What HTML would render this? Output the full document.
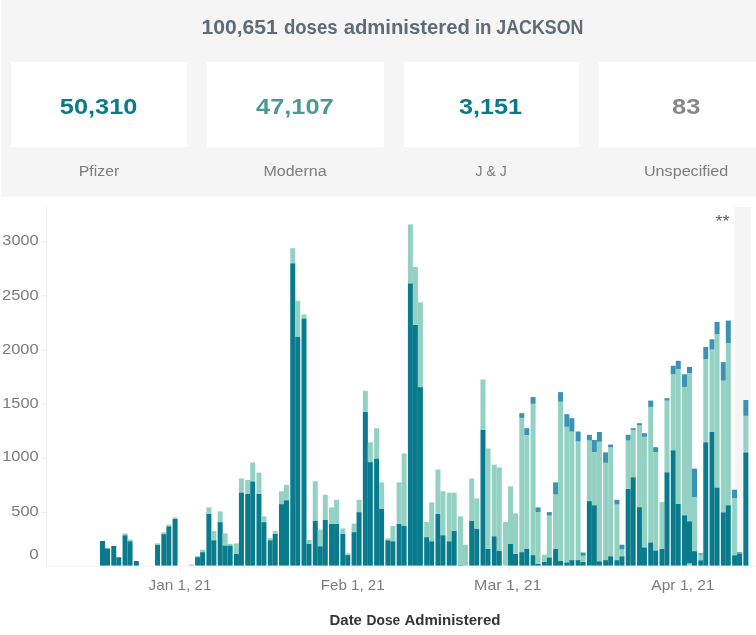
<!DOCTYPE html>
<html><head><meta charset="utf-8"><title>Doses administered</title>
<style>
html,body{margin:0;padding:0;background:#fff;}
body{width:756px;height:635px;overflow:hidden;position:relative;font-family:"Liberation Sans",sans-serif;}
svg{position:absolute;left:0;top:0;display:block;}
svg text{font-family:"Liberation Sans",sans-serif;}
.b{font-weight:bold;}
</style></head><body>
<svg width="756" height="635" viewBox="0 0 756 635">
<rect x="1.2" y="0" width="784" height="196.8" fill="#f5f5f5"/>
<rect x="11" y="62" width="176" height="85" fill="#fff"/>
<rect x="207" y="62" width="176.7" height="85" fill="#fff"/>
<rect x="403.7" y="62" width="175.3" height="85" fill="#fff"/>
<rect x="599" y="62" width="176" height="85" fill="#fff"/>
<rect x="734.4" y="207" width="16.7" height="359" fill="#f5f5f5"/>
<rect x="46" y="207" width="1" height="360.5" fill="#efefef"/>
<rect x="46" y="565.6" width="710" height="1" fill="#f1f1f1"/>
<rect x="41" y="511.88" width="5" height="1" fill="#ececec"/>
<rect x="41" y="457.75" width="5" height="1" fill="#ececec"/>
<rect x="41" y="403.62" width="5" height="1" fill="#ececec"/>
<rect x="41" y="349.50" width="5" height="1" fill="#ececec"/>
<rect x="41" y="295.38" width="5" height="1" fill="#ececec"/>
<rect x="41" y="241.25" width="5" height="1" fill="#ececec"/>
<rect x="179.7" y="567" width="1.2" height="4.8" fill="#f0f0f0"/>
<rect x="352.4" y="567" width="1.2" height="4.8" fill="#f0f0f0"/>
<rect x="508.9" y="567" width="1.2" height="4.8" fill="#f0f0f0"/>
<rect x="682.6" y="567" width="1.2" height="4.8" fill="#f0f0f0"/>
<text class="b" y="34.40" font-size="19.9" fill="#5f6b76"><tspan x="201.40" textLength="76.45" lengthAdjust="spacingAndGlyphs">100,651</tspan> <tspan x="283.90" textLength="53.70" lengthAdjust="spacingAndGlyphs">doses</tspan> <tspan x="343.65" textLength="126.25" lengthAdjust="spacingAndGlyphs">administered</tspan> <tspan x="474.95" textLength="16.60" lengthAdjust="spacingAndGlyphs">in</tspan> <tspan x="496.30" textLength="87.05" lengthAdjust="spacingAndGlyphs">JACKSON</tspan></text>
<text class="b" x="59.80" y="114.35" font-size="22.2" fill="#087a8b" textLength="77.55" lengthAdjust="spacingAndGlyphs">50,310</text>
<text class="b" x="256.10" y="114.35" font-size="22.2" fill="#4a9a93" textLength="77.55" lengthAdjust="spacingAndGlyphs">47,107</text>
<text class="b" x="459.05" y="114.35" font-size="22.2" fill="#087a8b" textLength="63.00" lengthAdjust="spacingAndGlyphs">3,151</text>
<text class="b" x="672.00" y="114.35" font-size="22.2" fill="#868686" textLength="28.30" lengthAdjust="spacingAndGlyphs">83</text>
<text x="78.75" y="176.45" font-size="14.7" fill="#7c7c7c" textLength="40.45" lengthAdjust="spacingAndGlyphs">Pfizer</text>
<text x="263.40" y="176.45" font-size="14.7" fill="#7c7c7c" textLength="63.25" lengthAdjust="spacingAndGlyphs">Moderna</text>
<text x="475.60" y="176.45" font-size="14.7" fill="#7c7c7c" textLength="31.05" lengthAdjust="spacingAndGlyphs">J &amp; J</text>
<text x="643.95" y="176.45" font-size="14.7" fill="#7c7c7c" textLength="84.40" lengthAdjust="spacingAndGlyphs">Unspecified</text>
<text x="2.35" y="245.00" font-size="14.8" fill="#7c7c7c" textLength="36.30" lengthAdjust="spacingAndGlyphs">3000</text>
<text x="2.10" y="300.00" font-size="14.8" fill="#7c7c7c" textLength="36.55" lengthAdjust="spacingAndGlyphs">2500</text>
<text x="2.10" y="353.75" font-size="14.8" fill="#7c7c7c" textLength="36.55" lengthAdjust="spacingAndGlyphs">2000</text>
<text x="2.25" y="407.50" font-size="14.8" fill="#7c7c7c" textLength="36.40" lengthAdjust="spacingAndGlyphs">1500</text>
<text x="2.25" y="461.25" font-size="14.8" fill="#7c7c7c" textLength="36.40" lengthAdjust="spacingAndGlyphs">1000</text>
<text x="11.30" y="516.25" font-size="14.8" fill="#7c7c7c" textLength="27.35" lengthAdjust="spacingAndGlyphs">500</text>
<text x="29.25" y="558.75" font-size="14.8" fill="#7c7c7c" textLength="9.40" lengthAdjust="spacingAndGlyphs">0</text>
<text x="148.60" y="589.60" font-size="14.6" fill="#7c7c7c" textLength="63.00" lengthAdjust="spacingAndGlyphs">Jan 1, 21</text>
<text x="320.75" y="589.60" font-size="14.6" fill="#7c7c7c" textLength="63.90" lengthAdjust="spacingAndGlyphs">Feb 1, 21</text>
<text x="474.10" y="589.60" font-size="14.6" fill="#7c7c7c" textLength="67.40" lengthAdjust="spacingAndGlyphs">Mar 1, 21</text>
<text x="651.35" y="589.60" font-size="14.6" fill="#7c7c7c" textLength="63.15" lengthAdjust="spacingAndGlyphs">Apr 1, 21</text>
<text class="b" y="624.90" font-size="15.0" fill="#353535"><tspan x="329.50" textLength="32.45" lengthAdjust="spacingAndGlyphs">Date</tspan> <tspan x="366.50" textLength="33.75" lengthAdjust="spacingAndGlyphs">Dose</tspan> <tspan x="404.45" textLength="96.00" lengthAdjust="spacingAndGlyphs">Administered</tspan></text>
<text x="715.60" y="226.70" font-size="16" fill="#5c5c5c" textLength="14.00" lengthAdjust="spacingAndGlyphs">**</text>
<rect x="100.00" y="541.0" width="5.0" height="24.6" fill="#0a7b8c"/>
<rect x="105.01" y="548.4" width="5.0" height="17.2" fill="#0a7b8c"/>
<rect x="111.26" y="546.0" width="5.0" height="19.6" fill="#0a7b8c"/>
<rect x="116.27" y="557.3" width="5.0" height="8.3" fill="#0a7b8c"/>
<rect x="122.53" y="535.2" width="5.0" height="30.4" fill="#0a7b8c"/>
<rect x="122.53" y="533.4" width="5.0" height="1.8" fill="#93d2c2"/>
<rect x="127.54" y="541.2" width="5.0" height="24.4" fill="#0a7b8c"/>
<rect x="127.54" y="539.5" width="5.0" height="1.7" fill="#93d2c2"/>
<rect x="133.79" y="561.0" width="5.0" height="4.6" fill="#0a7b8c"/>
<rect x="155.07" y="545.0" width="5.0" height="20.6" fill="#0a7b8c"/>
<rect x="155.07" y="543.4" width="5.0" height="1.6" fill="#93d2c2"/>
<rect x="161.33" y="534.1" width="5.0" height="31.5" fill="#0a7b8c"/>
<rect x="161.33" y="532.3" width="5.0" height="1.8" fill="#93d2c2"/>
<rect x="166.34" y="526.3" width="5.0" height="39.3" fill="#0a7b8c"/>
<rect x="166.34" y="524.7" width="5.0" height="1.6" fill="#93d2c2"/>
<rect x="172.59" y="518.9" width="5.0" height="46.7" fill="#0a7b8c"/>
<rect x="172.59" y="517.3" width="5.0" height="1.6" fill="#93d2c2"/>
<rect x="188.87" y="564.5" width="5.0" height="1.1" fill="#93d2c2"/>
<rect x="195.12" y="557.1" width="5.0" height="8.5" fill="#0a7b8c"/>
<rect x="195.12" y="556.2" width="5.0" height="0.9" fill="#93d2c2"/>
<rect x="200.13" y="552.1" width="5.0" height="13.5" fill="#0a7b8c"/>
<rect x="200.13" y="549.7" width="5.0" height="2.4" fill="#93d2c2"/>
<rect x="206.39" y="513.9" width="5.0" height="51.7" fill="#0a7b8c"/>
<rect x="206.39" y="507.4" width="5.0" height="6.5" fill="#93d2c2"/>
<rect x="211.39" y="540.2" width="5.0" height="25.4" fill="#0a7b8c"/>
<rect x="211.39" y="531.2" width="5.0" height="9.0" fill="#93d2c2"/>
<rect x="217.65" y="522.1" width="5.0" height="43.5" fill="#0a7b8c"/>
<rect x="217.65" y="511.3" width="5.0" height="10.8" fill="#93d2c2"/>
<rect x="222.66" y="545.4" width="5.0" height="20.2" fill="#0a7b8c"/>
<rect x="222.66" y="533.4" width="5.0" height="12.0" fill="#93d2c2"/>
<rect x="227.67" y="545.4" width="5.0" height="20.2" fill="#0a7b8c"/>
<rect x="227.67" y="543.8" width="5.0" height="1.6" fill="#93d2c2"/>
<rect x="233.92" y="553.6" width="5.0" height="12.0" fill="#0a7b8c"/>
<rect x="233.92" y="543.4" width="5.0" height="10.2" fill="#93d2c2"/>
<rect x="238.93" y="492.4" width="5.0" height="73.2" fill="#0a7b8c"/>
<rect x="238.93" y="478.5" width="5.0" height="13.9" fill="#93d2c2"/>
<rect x="245.19" y="493.9" width="5.0" height="71.7" fill="#0a7b8c"/>
<rect x="245.19" y="480.0" width="5.0" height="13.9" fill="#93d2c2"/>
<rect x="250.20" y="481.3" width="5.0" height="84.3" fill="#0a7b8c"/>
<rect x="250.20" y="462.4" width="5.0" height="18.9" fill="#93d2c2"/>
<rect x="256.45" y="493.9" width="5.0" height="71.7" fill="#0a7b8c"/>
<rect x="256.45" y="472.6" width="5.0" height="21.3" fill="#93d2c2"/>
<rect x="261.46" y="522.1" width="5.0" height="43.5" fill="#0a7b8c"/>
<rect x="261.46" y="516.3" width="5.0" height="5.8" fill="#93d2c2"/>
<rect x="267.72" y="540.2" width="5.0" height="25.4" fill="#0a7b8c"/>
<rect x="267.72" y="538.2" width="5.0" height="2.0" fill="#93d2c2"/>
<rect x="272.72" y="533.9" width="5.0" height="31.7" fill="#0a7b8c"/>
<rect x="272.72" y="531.0" width="5.0" height="2.9" fill="#93d2c2"/>
<rect x="278.98" y="504.1" width="5.0" height="61.5" fill="#0a7b8c"/>
<rect x="278.98" y="491.3" width="5.0" height="12.8" fill="#93d2c2"/>
<rect x="283.99" y="500.2" width="5.0" height="65.4" fill="#0a7b8c"/>
<rect x="283.99" y="484.8" width="5.0" height="15.4" fill="#93d2c2"/>
<rect x="290.25" y="263.2" width="5.0" height="302.4" fill="#0a7b8c"/>
<rect x="290.25" y="248.2" width="5.0" height="15.0" fill="#93d2c2"/>
<rect x="295.25" y="336.6" width="5.0" height="229.0" fill="#0a7b8c"/>
<rect x="295.25" y="300.8" width="5.0" height="35.8" fill="#93d2c2"/>
<rect x="301.51" y="318.4" width="5.0" height="247.2" fill="#0a7b8c"/>
<rect x="301.51" y="314.5" width="5.0" height="3.9" fill="#93d2c2"/>
<rect x="306.52" y="543.6" width="5.0" height="22.0" fill="#0a7b8c"/>
<rect x="306.52" y="539.9" width="5.0" height="3.7" fill="#93d2c2"/>
<rect x="312.78" y="521.0" width="5.0" height="44.6" fill="#0a7b8c"/>
<rect x="312.78" y="481.3" width="5.0" height="39.7" fill="#93d2c2"/>
<rect x="317.78" y="546.2" width="5.0" height="19.4" fill="#0a7b8c"/>
<rect x="317.78" y="529.7" width="5.0" height="16.5" fill="#93d2c2"/>
<rect x="322.79" y="520.0" width="5.0" height="45.6" fill="#0a7b8c"/>
<rect x="322.79" y="494.8" width="5.0" height="25.2" fill="#93d2c2"/>
<rect x="329.05" y="523.9" width="5.0" height="41.7" fill="#0a7b8c"/>
<rect x="329.05" y="507.4" width="5.0" height="16.5" fill="#93d2c2"/>
<rect x="334.05" y="523.9" width="5.0" height="41.7" fill="#0a7b8c"/>
<rect x="334.05" y="499.8" width="5.0" height="24.1" fill="#93d2c2"/>
<rect x="340.31" y="533.9" width="5.0" height="31.7" fill="#0a7b8c"/>
<rect x="340.31" y="528.4" width="5.0" height="5.5" fill="#93d2c2"/>
<rect x="345.32" y="555.1" width="5.0" height="10.5" fill="#0a7b8c"/>
<rect x="345.32" y="553.4" width="5.0" height="1.7" fill="#93d2c2"/>
<rect x="351.58" y="532.1" width="5.0" height="33.5" fill="#0a7b8c"/>
<rect x="351.58" y="523.6" width="5.0" height="8.5" fill="#93d2c2"/>
<rect x="356.58" y="512.1" width="5.0" height="53.5" fill="#0a7b8c"/>
<rect x="356.58" y="499.8" width="5.0" height="12.3" fill="#93d2c2"/>
<rect x="362.84" y="411.9" width="5.0" height="153.7" fill="#0a7b8c"/>
<rect x="362.84" y="390.8" width="5.0" height="21.1" fill="#93d2c2"/>
<rect x="367.85" y="462.1" width="5.0" height="103.5" fill="#0a7b8c"/>
<rect x="367.85" y="442.3" width="5.0" height="19.8" fill="#93d2c2"/>
<rect x="374.11" y="458.4" width="5.0" height="107.2" fill="#0a7b8c"/>
<rect x="374.11" y="428.2" width="5.0" height="30.2" fill="#93d2c2"/>
<rect x="379.11" y="508.9" width="5.0" height="56.7" fill="#0a7b8c"/>
<rect x="379.11" y="482.4" width="5.0" height="26.5" fill="#93d2c2"/>
<rect x="385.37" y="540.2" width="5.0" height="25.4" fill="#0a7b8c"/>
<rect x="385.37" y="538.4" width="5.0" height="1.8" fill="#93d2c2"/>
<rect x="390.38" y="541.2" width="5.0" height="24.4" fill="#0a7b8c"/>
<rect x="390.38" y="526.0" width="5.0" height="15.2" fill="#93d2c2"/>
<rect x="396.64" y="523.9" width="5.0" height="41.7" fill="#0a7b8c"/>
<rect x="396.64" y="482.4" width="5.0" height="41.5" fill="#93d2c2"/>
<rect x="401.64" y="526.0" width="5.0" height="39.6" fill="#0a7b8c"/>
<rect x="401.64" y="453.5" width="5.0" height="72.5" fill="#93d2c2"/>
<rect x="407.90" y="283.3" width="5.0" height="282.3" fill="#0a7b8c"/>
<rect x="407.90" y="224.4" width="5.0" height="58.9" fill="#93d2c2"/>
<rect x="412.91" y="324.7" width="5.0" height="240.9" fill="#0a7b8c"/>
<rect x="412.91" y="267.1" width="5.0" height="57.6" fill="#93d2c2"/>
<rect x="417.91" y="387.1" width="5.0" height="178.5" fill="#0a7b8c"/>
<rect x="417.91" y="302.3" width="5.0" height="84.8" fill="#93d2c2"/>
<rect x="424.17" y="537.1" width="5.0" height="28.5" fill="#0a7b8c"/>
<rect x="424.17" y="522.1" width="5.0" height="15.0" fill="#93d2c2"/>
<rect x="429.18" y="541.2" width="5.0" height="24.4" fill="#0a7b8c"/>
<rect x="429.18" y="502.4" width="5.0" height="38.8" fill="#93d2c2"/>
<rect x="435.44" y="513.9" width="5.0" height="51.7" fill="#0a7b8c"/>
<rect x="435.44" y="469.6" width="5.0" height="44.3" fill="#93d2c2"/>
<rect x="440.44" y="535.2" width="5.0" height="30.4" fill="#0a7b8c"/>
<rect x="440.44" y="491.3" width="5.0" height="43.9" fill="#93d2c2"/>
<rect x="446.70" y="541.2" width="5.0" height="24.4" fill="#0a7b8c"/>
<rect x="446.70" y="492.6" width="5.0" height="48.6" fill="#93d2c2"/>
<rect x="451.71" y="531.0" width="5.0" height="34.6" fill="#0a7b8c"/>
<rect x="451.71" y="492.6" width="5.0" height="38.4" fill="#93d2c2"/>
<rect x="457.96" y="565.1" width="5.0" height="0.5" fill="#0a7b8c"/>
<rect x="457.96" y="516.3" width="5.0" height="48.8" fill="#93d2c2"/>
<rect x="462.97" y="544.7" width="5.0" height="20.9" fill="#93d2c2"/>
<rect x="469.23" y="521.0" width="5.0" height="44.6" fill="#0a7b8c"/>
<rect x="469.23" y="478.5" width="5.0" height="42.5" fill="#93d2c2"/>
<rect x="474.24" y="528.6" width="5.0" height="37.0" fill="#0a7b8c"/>
<rect x="474.24" y="498.4" width="5.0" height="30.2" fill="#93d2c2"/>
<rect x="480.49" y="429.7" width="5.0" height="135.9" fill="#0a7b8c"/>
<rect x="480.49" y="379.5" width="5.0" height="50.2" fill="#93d2c2"/>
<rect x="485.50" y="548.6" width="5.0" height="17.0" fill="#0a7b8c"/>
<rect x="485.50" y="448.4" width="5.0" height="100.2" fill="#93d2c2"/>
<rect x="491.76" y="536.2" width="5.0" height="29.4" fill="#0a7b8c"/>
<rect x="491.76" y="464.6" width="5.0" height="71.6" fill="#93d2c2"/>
<rect x="496.77" y="551.0" width="5.0" height="14.6" fill="#0a7b8c"/>
<rect x="496.77" y="467.4" width="5.0" height="83.6" fill="#93d2c2"/>
<rect x="503.02" y="522.1" width="5.0" height="43.5" fill="#93d2c2"/>
<rect x="508.03" y="543.6" width="5.0" height="22.0" fill="#0a7b8c"/>
<rect x="508.03" y="486.3" width="5.0" height="57.3" fill="#93d2c2"/>
<rect x="513.04" y="553.8" width="5.0" height="11.8" fill="#0a7b8c"/>
<rect x="513.04" y="513.4" width="5.0" height="40.4" fill="#93d2c2"/>
<rect x="519.29" y="552.1" width="5.0" height="13.5" fill="#0a7b8c"/>
<rect x="519.29" y="417.9" width="5.0" height="134.2" fill="#93d2c2"/>
<rect x="519.29" y="413.2" width="5.0" height="4.7" fill="#3a92b4"/>
<rect x="524.30" y="548.6" width="5.0" height="17.0" fill="#0a7b8c"/>
<rect x="524.30" y="435.1" width="5.0" height="113.5" fill="#93d2c2"/>
<rect x="524.30" y="428.2" width="5.0" height="6.9" fill="#3a92b4"/>
<rect x="530.56" y="555.1" width="5.0" height="10.5" fill="#0a7b8c"/>
<rect x="530.56" y="403.8" width="5.0" height="151.3" fill="#93d2c2"/>
<rect x="530.56" y="397.1" width="5.0" height="6.7" fill="#3a92b4"/>
<rect x="535.57" y="563.8" width="5.0" height="1.8" fill="#0a7b8c"/>
<rect x="535.57" y="512.1" width="5.0" height="51.7" fill="#93d2c2"/>
<rect x="535.57" y="507.4" width="5.0" height="4.7" fill="#3a92b4"/>
<rect x="541.82" y="561.9" width="5.0" height="3.7" fill="#0a7b8c"/>
<rect x="541.82" y="554.7" width="5.0" height="7.2" fill="#93d2c2"/>
<rect x="546.83" y="557.3" width="5.0" height="8.3" fill="#0a7b8c"/>
<rect x="546.83" y="515.6" width="5.0" height="41.7" fill="#93d2c2"/>
<rect x="546.83" y="512.1" width="5.0" height="3.5" fill="#3a92b4"/>
<rect x="553.09" y="548.6" width="5.0" height="17.0" fill="#0a7b8c"/>
<rect x="553.09" y="494.5" width="5.0" height="54.1" fill="#93d2c2"/>
<rect x="553.09" y="482.4" width="5.0" height="12.1" fill="#3a92b4"/>
<rect x="558.09" y="561.0" width="5.0" height="4.6" fill="#0a7b8c"/>
<rect x="558.09" y="401.7" width="5.0" height="159.3" fill="#93d2c2"/>
<rect x="558.09" y="392.1" width="5.0" height="9.6" fill="#3a92b4"/>
<rect x="564.35" y="562.3" width="5.0" height="3.3" fill="#0a7b8c"/>
<rect x="564.35" y="426.8" width="5.0" height="135.5" fill="#93d2c2"/>
<rect x="564.35" y="414.2" width="5.0" height="12.6" fill="#3a92b4"/>
<rect x="569.36" y="560.1" width="5.0" height="5.5" fill="#0a7b8c"/>
<rect x="569.36" y="431.6" width="5.0" height="128.5" fill="#93d2c2"/>
<rect x="569.36" y="418.2" width="5.0" height="13.4" fill="#3a92b4"/>
<rect x="575.62" y="560.1" width="5.0" height="5.5" fill="#0a7b8c"/>
<rect x="575.62" y="441.4" width="5.0" height="118.7" fill="#93d2c2"/>
<rect x="575.62" y="431.5" width="5.0" height="9.9" fill="#3a92b4"/>
<rect x="580.62" y="561.9" width="5.0" height="3.7" fill="#0a7b8c"/>
<rect x="580.62" y="555.8" width="5.0" height="6.1" fill="#93d2c2"/>
<rect x="580.62" y="552.5" width="5.0" height="3.3" fill="#3a92b4"/>
<rect x="586.88" y="501.1" width="5.0" height="64.5" fill="#0a7b8c"/>
<rect x="586.88" y="440.5" width="5.0" height="60.6" fill="#93d2c2"/>
<rect x="586.88" y="434.8" width="5.0" height="5.7" fill="#3a92b4"/>
<rect x="591.89" y="505.2" width="5.0" height="60.4" fill="#0a7b8c"/>
<rect x="591.89" y="452.0" width="5.0" height="53.2" fill="#93d2c2"/>
<rect x="591.89" y="440.0" width="5.0" height="12.0" fill="#3a92b4"/>
<rect x="596.90" y="561.2" width="5.0" height="4.4" fill="#0a7b8c"/>
<rect x="596.90" y="441.8" width="5.0" height="119.4" fill="#93d2c2"/>
<rect x="596.90" y="432.0" width="5.0" height="9.8" fill="#3a92b4"/>
<rect x="603.15" y="560.1" width="5.0" height="5.5" fill="#0a7b8c"/>
<rect x="603.15" y="462.8" width="5.0" height="97.3" fill="#93d2c2"/>
<rect x="603.15" y="452.4" width="5.0" height="10.4" fill="#3a92b4"/>
<rect x="608.16" y="556.2" width="5.0" height="9.4" fill="#0a7b8c"/>
<rect x="608.16" y="447.2" width="5.0" height="109.0" fill="#93d2c2"/>
<rect x="608.16" y="444.6" width="5.0" height="2.6" fill="#3a92b4"/>
<rect x="614.42" y="560.1" width="5.0" height="5.5" fill="#0a7b8c"/>
<rect x="614.42" y="504.5" width="5.0" height="55.6" fill="#93d2c2"/>
<rect x="614.42" y="499.8" width="5.0" height="4.7" fill="#3a92b4"/>
<rect x="619.42" y="556.2" width="5.0" height="9.4" fill="#0a7b8c"/>
<rect x="619.42" y="549.3" width="5.0" height="6.9" fill="#93d2c2"/>
<rect x="619.42" y="544.7" width="5.0" height="4.6" fill="#3a92b4"/>
<rect x="625.68" y="488.7" width="5.0" height="76.9" fill="#0a7b8c"/>
<rect x="625.68" y="440.5" width="5.0" height="48.2" fill="#93d2c2"/>
<rect x="625.68" y="434.8" width="5.0" height="5.7" fill="#3a92b4"/>
<rect x="630.69" y="477.2" width="5.0" height="88.4" fill="#0a7b8c"/>
<rect x="630.69" y="429.9" width="5.0" height="47.3" fill="#93d2c2"/>
<rect x="630.69" y="428.2" width="5.0" height="1.7" fill="#3a92b4"/>
<rect x="636.95" y="507.1" width="5.0" height="58.5" fill="#0a7b8c"/>
<rect x="636.95" y="425.5" width="5.0" height="81.6" fill="#93d2c2"/>
<rect x="636.95" y="423.2" width="5.0" height="2.3" fill="#3a92b4"/>
<rect x="641.95" y="547.3" width="5.0" height="18.3" fill="#0a7b8c"/>
<rect x="641.95" y="436.8" width="5.0" height="110.5" fill="#93d2c2"/>
<rect x="641.95" y="433.2" width="5.0" height="3.6" fill="#3a92b4"/>
<rect x="648.21" y="542.3" width="5.0" height="23.3" fill="#0a7b8c"/>
<rect x="648.21" y="406.9" width="5.0" height="135.4" fill="#93d2c2"/>
<rect x="648.21" y="400.6" width="5.0" height="6.3" fill="#3a92b4"/>
<rect x="653.22" y="550.4" width="5.0" height="15.2" fill="#0a7b8c"/>
<rect x="653.22" y="452.0" width="5.0" height="98.4" fill="#93d2c2"/>
<rect x="653.22" y="447.2" width="5.0" height="4.8" fill="#3a92b4"/>
<rect x="659.48" y="548.8" width="5.0" height="16.8" fill="#0a7b8c"/>
<rect x="659.48" y="502.1" width="5.0" height="46.7" fill="#93d2c2"/>
<rect x="664.48" y="472.2" width="5.0" height="93.4" fill="#0a7b8c"/>
<rect x="664.48" y="400.6" width="5.0" height="71.6" fill="#93d2c2"/>
<rect x="664.48" y="398.2" width="5.0" height="2.4" fill="#3a92b4"/>
<rect x="670.74" y="450.2" width="5.0" height="115.4" fill="#0a7b8c"/>
<rect x="670.74" y="374.3" width="5.0" height="75.9" fill="#93d2c2"/>
<rect x="670.74" y="365.8" width="5.0" height="8.5" fill="#3a92b4"/>
<rect x="675.75" y="503.7" width="5.0" height="61.9" fill="#0a7b8c"/>
<rect x="675.75" y="369.1" width="5.0" height="134.6" fill="#93d2c2"/>
<rect x="675.75" y="360.8" width="5.0" height="8.3" fill="#3a92b4"/>
<rect x="682.01" y="515.2" width="5.0" height="50.4" fill="#0a7b8c"/>
<rect x="682.01" y="386.9" width="5.0" height="128.3" fill="#93d2c2"/>
<rect x="682.01" y="374.3" width="5.0" height="12.6" fill="#3a92b4"/>
<rect x="687.01" y="563.4" width="5.0" height="2.2" fill="#bdbdbd"/>
<rect x="687.01" y="521.2" width="5.0" height="42.2" fill="#0a7b8c"/>
<rect x="687.01" y="373.0" width="5.0" height="148.2" fill="#93d2c2"/>
<rect x="687.01" y="366.9" width="5.0" height="6.1" fill="#3a92b4"/>
<rect x="692.02" y="551.1" width="5.0" height="14.5" fill="#0a7b8c"/>
<rect x="692.02" y="497.1" width="5.0" height="54.0" fill="#93d2c2"/>
<rect x="692.02" y="468.6" width="5.0" height="28.5" fill="#3a92b4"/>
<rect x="698.28" y="560.2" width="5.0" height="5.4" fill="#0a7b8c"/>
<rect x="698.28" y="554.6" width="5.0" height="5.6" fill="#93d2c2"/>
<rect x="698.28" y="553.3" width="5.0" height="1.3" fill="#3a92b4"/>
<rect x="703.28" y="442.2" width="5.0" height="123.4" fill="#0a7b8c"/>
<rect x="703.28" y="359.1" width="5.0" height="83.1" fill="#93d2c2"/>
<rect x="703.28" y="346.9" width="5.0" height="12.2" fill="#3a92b4"/>
<rect x="709.54" y="431.9" width="5.0" height="133.7" fill="#0a7b8c"/>
<rect x="709.54" y="349.5" width="5.0" height="82.4" fill="#93d2c2"/>
<rect x="709.54" y="339.3" width="5.0" height="10.2" fill="#3a92b4"/>
<rect x="714.55" y="487.4" width="5.0" height="78.2" fill="#0a7b8c"/>
<rect x="714.55" y="334.1" width="5.0" height="153.3" fill="#93d2c2"/>
<rect x="714.55" y="321.9" width="5.0" height="12.2" fill="#3a92b4"/>
<rect x="720.81" y="512.2" width="5.0" height="53.4" fill="#0a7b8c"/>
<rect x="720.81" y="380.6" width="5.0" height="131.6" fill="#93d2c2"/>
<rect x="720.81" y="362.1" width="5.0" height="18.5" fill="#3a92b4"/>
<rect x="725.81" y="505.2" width="5.0" height="60.4" fill="#0a7b8c"/>
<rect x="725.81" y="343.0" width="5.0" height="162.2" fill="#93d2c2"/>
<rect x="725.81" y="320.6" width="5.0" height="22.4" fill="#3a92b4"/>
<rect x="732.07" y="555.2" width="5.0" height="10.4" fill="#0a7b8c"/>
<rect x="732.07" y="498.2" width="5.0" height="57.0" fill="#93d2c2"/>
<rect x="732.07" y="489.7" width="5.0" height="8.5" fill="#3a92b4"/>
<rect x="737.08" y="553.6" width="5.0" height="12.0" fill="#0a7b8c"/>
<rect x="737.08" y="552.3" width="5.0" height="1.3" fill="#3a92b4"/>
<rect x="743.34" y="452.3" width="5.0" height="113.3" fill="#0a7b8c"/>
<rect x="743.34" y="415.8" width="5.0" height="36.5" fill="#93d2c2"/>
<rect x="743.34" y="400.0" width="5.0" height="15.8" fill="#3a92b4"/>
</svg></body></html>
